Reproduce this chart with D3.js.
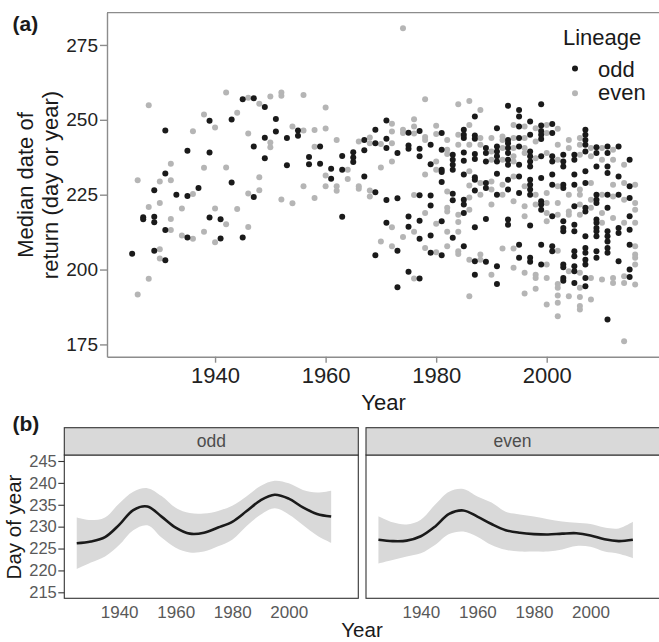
<!DOCTYPE html>
<html>
<head>
<meta charset="utf-8">
<script src="https://cdn.jsdelivr.net/npm/d3@7"></script>
<style>
  body { margin: 0; background: #fff; }
  svg { font-family: "Liberation Sans", Arial, sans-serif; display: block; }
</style>
</head>
<body>
<div id="chart"></div>
<script>
// *** Return timing by lineage ***

// Panel (a) points: [year, day, day, ...]  (odd lineage returns in odd years)
const oddRows = [
  [1925, 205.3],
  [1927, 217.5, 216.8],
  [1929, 226.5, 217.6, 215.8, 206.3],
  [1931, 246.4, 232.1, 213.2, 203.1],
  [1933, 225],
  [1935, 239.7, 224.6, 210.7],
  [1937, 227.2],
  [1939, 249.7, 239.1, 217.4],
  [1941, 216.8, 210.4],
  [1943, 250.1, 229.1],
  [1945, 256.9, 210.7],
  [1947, 257.2, 241.1, 224.2],
  [1949, 254.3, 244, 237.2],
  [1951, 250.3, 246.1],
  [1953, 243.9, 234.8],
  [1955, 246.4, 244.7],
  [1957, 237.6, 235.2],
  [1959, 241.1, 235.3],
  [1961, 233.7, 230.3],
  [1963, 237.9, 233.3, 217.6],
  [1965, 239.2, 237.4, 235.9],
  [1967, 243.3, 239.8, 231.1],
  [1969, 246.7, 242.2, 225.8, 204.8],
  [1971, 249.8, 243.7, 240.6, 223.2, 215.6],
  [1973, 238.9, 223.8, 206.3, 194.1],
  [1975, 245.7, 241.4, 240.3, 217.7, 214.3, 199.3],
  [1977, 246.3, 240.3, 237.8, 224.8, 216.3, 210.3, 197],
  [1979, 241.7, 235.2, 224.7, 221.4, 211.4, 205.6],
  [1981, 245.6, 240, 233.3, 232.6, 229.2, 216.1, 204.8],
  [1983, 238.3, 236.7, 235, 233.3, 225.3, 223.1, 210.6],
  [1985, 246.7, 245, 243.9, 239.1, 236.3, 231.7, 223.3, 221.7, 218.9, 207.8],
  [1987, 251.1, 244.8, 243.7, 238.6, 236.9, 230.8, 230, 226.4, 214.1, 202.8, 198.3],
  [1989, 240.6, 238.9, 236.1, 228.9, 227.2, 216.9, 202.6],
  [1991, 247.2, 241.1, 239.4, 237.8, 236.1, 232, 225, 201.1, 195.2],
  [1993, 254.7, 243.3, 242.2, 240.6, 238.9, 236.7, 235, 230, 226.7, 216.7, 215],
  [1995, 253.3, 251.1, 247.8, 243.9, 241.1, 235, 231.1, 225.6, 208.3, 203.9],
  [1997, 249.4, 245, 239.4, 237.8, 236.1, 234.4, 230, 228.3, 226.7, 225, 214.7, 203.9, 202.6],
  [1999, 255.2, 248.1, 246.3, 245, 243.6, 237.8, 230.6, 222.8, 221.7, 220, 208.3, 201.7],
  [2001, 248.6, 245.6, 237.8, 236.1, 231.7, 228.3, 217.8, 207.8, 206.1],
  [2003, 238.3, 236.1, 234.4, 228.3, 227.2, 216.1, 213.9, 212.8, 201.7, 200.8, 197.2, 196.3],
  [2005, 238.3, 236.7, 231.7, 228.3, 221.1, 215, 212.8, 206.1, 204.4, 201.1, 199.4, 195.5],
  [2007, 246.7, 245, 243.3, 241.7, 239.4, 232.8, 228.9, 220.6, 219.4, 211.1, 207.2, 205.6, 203.3, 201.7, 197.2, 194.4],
  [2009, 240.8, 238.9, 234.4, 225, 223.3, 222.2, 216.7, 215.6, 213.9, 212.8, 211.1, 206.1, 203.9],
  [2011, 241.1, 238.9, 234.4, 232.2, 225, 220.6, 212.8, 211.1, 209.4, 207.2, 205.6, 183.3],
  [2013, 241.1, 231.1, 225, 213.9, 212.2, 202.8],
  [2015, 236.7, 227.8, 223.9, 217.8, 213.3, 208.3, 200, 197.5]
];

const evenRows = [
  [1926, 229.8, 191.7],
  [1928, 254.9, 220.9, 196.9],
  [1930, 229.4, 222.2, 206.8, 203.7],
  [1932, 235.3, 229.8, 216.9, 213.2],
  [1934, 220.4, 211.4],
  [1936, 246.2, 225.2, 210.3],
  [1938, 251.8, 234, 212.6],
  [1940, 247.4, 220.4, 209.1],
  [1942, 259.1, 234.1, 215.1],
  [1944, 252.4, 220.2],
  [1946, 257.4, 245.4, 225.4, 214.2],
  [1948, 255.4, 230.8, 226.5],
  [1950, 257.8, 242.4, 240.8],
  [1952, 259.1, 258, 223.4],
  [1954, 247.8, 222.1],
  [1956, 258.3, 246.4, 227.8],
  [1958, 246.6, 241, 223.9],
  [1960, 254.1, 247.1, 231.4, 227.8],
  [1962, 243.3, 227.8, 226.3],
  [1964, 233.3, 230.2],
  [1966, 242.8, 227.8, 227],
  [1968, 244.1, 242.2, 226.4, 224.4],
  [1970, 241.9, 234.1, 209.4],
  [1972, 248.7, 246.1, 242.2, 236.1, 214.1, 207.8],
  [1974, 280.6, 246.7, 245.6, 210.9],
  [1976, 250.2, 247.8, 245.4, 224.9, 212.6, 197],
  [1978, 256.9, 244.3, 243.3, 231.7, 218.9, 207.2],
  [1980, 248, 245.3, 236.1, 233.3, 215.3, 205.8],
  [1982, 243.3, 240, 238.6, 226.1, 220.6, 219.4, 212.6, 207.8],
  [1984, 255.2, 245, 241.7, 218.3, 215.9, 212.6, 206.1, 205.2],
  [1986, 256.3, 248.3, 241.7, 232.8, 228.1, 224.1, 220, 203.3, 191.1],
  [1988, 253.3, 243.9, 241.7, 228.9, 225, 205, 203.3],
  [1990, 243.9, 239.4, 236.7, 229.4, 226.7, 221.7, 198.3],
  [1992, 244.4, 243.3, 240.6, 236.7, 228.3, 225, 207],
  [1994, 248.3, 243.9, 240.6, 237.8, 236.1, 231.1, 222.8, 207, 200.6],
  [1996, 247.8, 243.9, 240.6, 238.9, 227.8, 221.1, 217.8, 198.9, 192],
  [1998, 247.2, 242.8, 237.2, 225, 221.7, 198.3, 197.2, 193.6],
  [2000, 248.3, 245.6, 238.9, 225.6, 222.2, 218.9, 216.1, 201.7, 197.2, 188.3],
  [2002, 247, 241.7, 236.7, 227.8, 222.2, 218.3, 206.3, 195.2, 193.9, 191.3, 188.9, 184.4],
  [2004, 243.3, 240.6, 225, 219.4, 218.3, 199.4, 191.1],
  [2006, 243.9, 241.7, 238.3, 226.7, 225, 221.7, 218.3, 198.9, 193.9, 190.8, 187.8, 186.7],
  [2008, 240.6, 237.8, 228.9, 223.3, 220.6, 197.2, 190],
  [2010, 240.6, 236.7, 225, 218.9, 215.6, 196.7],
  [2012, 240, 236.7, 228.3, 224.4, 217.2, 197.2, 195.5],
  [2014, 235, 228.9, 223.3, 215.6, 197.8, 195.5, 176.1],
  [2016, 228.3, 222.2, 220, 215.6, 207.8, 205, 203.9, 201.7, 195]
];

// Panel (b) smooth fits, sampled every 5 years
const fitYears = [1925, 1930, 1935, 1940, 1945, 1950, 1955, 1960, 1965, 1970,
                  1975, 1980, 1985, 1990, 1995, 2000, 2005, 2010, 2015];
const oddFit   = [226.2, 226.6, 227.6, 230.4, 233.8, 234.6, 232.3, 229.8, 228.4, 228.6,
                  229.8, 231.1, 233.5, 236.0, 237.3, 236.4, 234.4, 232.9, 232.3];
const oddUpper = [232.1, 231.5, 232.1, 235.3, 238.0, 238.8, 237.0, 234.3, 233.1, 233.0,
                  233.6, 234.8, 236.9, 239.3, 240.5, 239.9, 238.4, 237.8, 238.2];
const oddLower = [220.3, 221.8, 223.2, 225.8, 229.2, 230.3, 227.5, 225.2, 224.1, 224.3,
                  225.5, 227.0, 230.1, 232.7, 234.2, 232.8, 230.4, 228.0, 226.3];
const evenFit   = [227.0, 226.7, 226.8, 227.8, 230.0, 232.9, 233.7, 232.3, 230.6, 229.2,
                   228.6, 228.3, 228.2, 228.4, 228.5, 228.0, 227.1, 226.7, 227.0];
const evenUpper = [232.4, 231.0, 230.5, 231.6, 235.0, 238.0, 238.6, 236.9, 235.5, 233.4,
                   232.8, 232.3, 231.7, 231.2, 230.9, 230.6, 229.8, 229.6, 231.1];
const evenLower = [221.6, 222.4, 223.2, 223.9, 225.8, 228.3, 228.9, 227.7, 225.8, 224.7,
                   224.3, 224.3, 224.3, 224.8, 225.6, 225.4, 224.3, 223.8, 222.8];

const lineages = ["odd", "even"];
const colors = { odd: "#1a1a1a", even: "#b5b5b5" };
const xTicks = [1940, 1960, 1980, 2000];

let svg = d3.select("#chart").append("svg")
    .attr("width", 659)
    .attr("height", 642);

// flatten rows to points
function toPoints(rows, lin) {
    return rows.flatMap(r => r.slice(1).map(v => ({ year: r[0], day: v, lineage: lin })));
}
let points = toPoints(evenRows, "even").concat(toPoints(oddRows, "odd"));

// ---------- panel (a) ----------
let xA = d3.scaleLinear().domain([1920.45, 2020.55]).range([107, 660.3]);
let yA = d3.scaleLinear().domain([170.9, 285.8]).range([356.7, 12.6]);

let gA = svg.append("g");

// top border
gA.append("line")
    .attr("x1", 107).attr("x2", 659)
    .attr("y1", yA.range()[1]).attr("y2", yA.range()[1])
    .attr("stroke", "#8c8c8c").attr("stroke-width", 1.4);

let yAxisA = gA.append("g")
    .attr("transform", "translate(107,0)")
    .call(d3.axisLeft(yA).tickValues([175, 200, 225, 250, 275]).tickSize(7).tickPadding(2).tickSizeOuter(0));
let xAxisA = gA.append("g")
    .attr("transform", `translate(0,${yA.range()[0]})`)
    .call(d3.axisBottom(xA).tickValues(xTicks).tickFormat(d3.format("d")).tickSize(6).tickPadding(5).tickSizeOuter(0));

[yAxisA, xAxisA].forEach(ax => {
    ax.select(".domain").attr("stroke", "#8c8c8c").attr("stroke-width", 1.4);
    ax.selectAll(".tick line").attr("stroke", "#8c8c8c").attr("stroke-width", 1.4);
    ax.selectAll(".tick text").attr("fill", "#222").attr("font-family", "Liberation Sans");
});
yAxisA.selectAll(".tick text").attr("font-size", "19px");
xAxisA.selectAll(".tick text").attr("font-size", "22px");

gA.selectAll("circle.pt")
    .data(points)
    .enter()
    .append("circle")
    .attr("class", "pt")
    .attr("cx", d => xA(d.year))
    .attr("cy", d => yA(d.day))
    .attr("r", 3)
    .attr("fill", d => colors[d.lineage]);

// axis titles
let yTitle = gA.append("text")
    .attr("transform", "translate(33.3,185) rotate(-90)")
    .attr("text-anchor", "middle")
    .attr("font-size", "22px")
    .attr("fill", "#1a1a1a");
yTitle.append("tspan").attr("x", 0).attr("y", 0).text("Median date of");
yTitle.append("tspan").attr("x", 0).attr("y", 25).text("return (day or year)");

gA.append("text")
    .attr("x", 383.5).attr("y", 410)
    .attr("text-anchor", "middle")
    .attr("font-size", "22px")
    .attr("fill", "#1a1a1a")
    .text("Year");

// legend
gA.append("text")
    .attr("x", 563).attr("y", 45)
    .attr("font-size", "22px").attr("fill", "#1a1a1a")
    .text("Lineage");
lineages.forEach((lin, i) => {
    gA.append("circle")
        .attr("cx", 575).attr("cy", 68.5 + i * 24.8)
        .attr("r", 3).attr("fill", colors[lin]);
    gA.append("text")
        .attr("x", 598).attr("y", 76.7 + i * 23.5)
        .attr("font-size", "22px").attr("fill", "#1a1a1a")
        .text(lin);
});

svg.append("text").attr("x", 12.5).attr("y", 31)
    .attr("font-size", "21px").attr("font-weight", "bold").attr("fill", "#1a1a1a")
    .text("(a)");

// ---------- panel (b) ----------
svg.append("text").attr("x", 12.5).attr("y", 431)
    .attr("font-size", "21px").attr("font-weight", "bold").attr("fill", "#1a1a1a")
    .text("(b)");

let yB = d3.scaleLinear().domain([213.63, 246.37]).range([598.3, 455]);
let stripTop = 427.7;

let facets = [
    { name: "odd",  x0: 64.3, x1: 358.3, fit: oddFit, lo: oddLower, hi: oddUpper },
    { name: "even", x0: 366,  x1: 660,   fit: evenFit, lo: evenLower, hi: evenUpper }
];

facets.forEach((f, i) => {
    let xB = d3.scaleLinear().domain([1920.6, 2024.6]).range([f.x0, f.x1]);
    let g = svg.append("g");
    let fitData = fitYears.map((yr, k) => ({ year: yr, fit: f.fit[k], lo: f.lo[k], hi: f.hi[k] }));

    // ribbon
    g.append("path")
        .datum(fitData)
        .attr("d", d3.area()
            .x(d => xB(d.year))
            .y0(d => yB(d.lo))
            .y1(d => yB(d.hi))
            .curve(d3.curveCatmullRom.alpha(0.5)))
        .attr("fill", "#d9d9d9");

    // fitted line
    g.append("path")
        .datum(fitData)
        .attr("d", d3.line()
            .x(d => xB(d.year))
            .y(d => yB(d.fit))
            .curve(d3.curveCatmullRom.alpha(0.5)))
        .attr("fill", "none")
        .attr("stroke", "#1a1a1a")
        .attr("stroke-width", 2.6);

    // panel border
    g.append("rect")
        .attr("x", f.x0).attr("y", yB.range()[1])
        .attr("width", f.x1 - f.x0).attr("height", yB.range()[0] - yB.range()[1])
        .attr("fill", "none").attr("stroke", "#333").attr("stroke-width", 1.1);

    // strip
    g.append("rect")
        .attr("x", f.x0).attr("y", stripTop)
        .attr("width", f.x1 - f.x0).attr("height", yB.range()[1] - stripTop)
        .attr("fill", "#d9d9d9").attr("stroke", "#333").attr("stroke-width", 1.1);
    g.append("text")
        .attr("x", (f.x0 + Math.min(f.x1, 659)) / 2).attr("y", 446.7)
        .attr("text-anchor", "middle")
        .attr("font-size", "17.5px").attr("fill", "#4d4d4d")
        .text(f.name);

    // x axis labels
    let xAx = g.append("g")
        .attr("transform", `translate(0,${yB.range()[0]})`)
        .call(d3.axisBottom(xB).tickValues(xTicks).tickFormat(d3.format("d")).tickSize(0).tickPadding(8));
    xAx.select(".domain").remove();
    xAx.selectAll(".tick text").attr("font-size", "17px").attr("fill", "#595959")
        .attr("font-family", "Liberation Sans");

    if (i === 0) {
        let yAx = g.append("g")
            .attr("transform", `translate(${f.x0},0)`)
            .call(d3.axisLeft(yB).tickValues(d3.range(215, 246, 5)).tickSize(6).tickPadding(1.5).tickSizeOuter(0));
        yAx.select(".domain").remove();
        yAx.selectAll(".tick line").attr("stroke", "#333").attr("stroke-width", 1.1);
        yAx.selectAll(".tick text").attr("font-size", "16.5px").attr("fill", "#595959")
            .attr("font-family", "Liberation Sans");
    }
});

svg.append("text")
    .attr("transform", "translate(21,527) rotate(-90)")
    .attr("text-anchor", "middle")
    .attr("font-size", "20.5px").attr("fill", "#1a1a1a")
    .text("Day of year");

svg.append("text")
    .attr("x", 362).attr("y", 637)
    .attr("text-anchor", "middle")
    .attr("font-size", "20.5px").attr("fill", "#1a1a1a")
    .text("Year");
</script>
</body>
</html>
